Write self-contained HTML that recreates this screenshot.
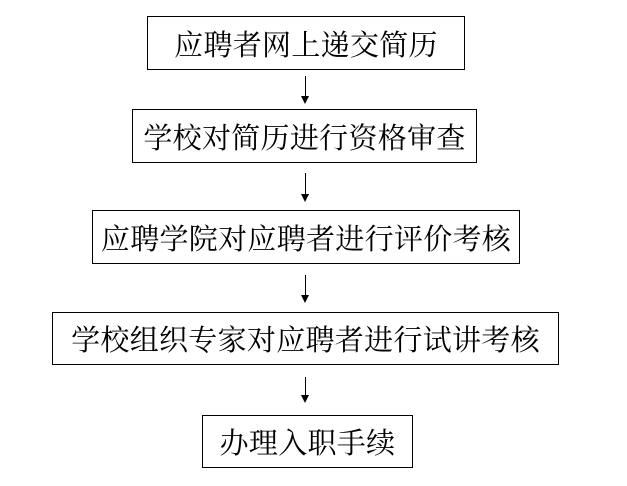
<!DOCTYPE html>
<html><head><meta charset="utf-8"><style>
html,body{margin:0;padding:0;background:#fff;}
body{width:627px;height:486px;position:relative;overflow:hidden;font-family:"Liberation Serif","Noto Serif CJK SC","Noto Sans CJK SC",serif;}
.b{position:absolute;border:1px solid #000;box-sizing:border-box;display:flex;align-items:center;justify-content:center;font-size:29px;color:#000;white-space:nowrap;letter-spacing:0.3px;}
.a{position:absolute;left:305px;width:1px;background:#000;}
.h{position:absolute;left:301px;width:0;height:0;border-left:4px solid transparent;border-right:4px solid transparent;border-top:8px solid #000;}
</style></head><body>
<div class="b" style="left:147px;top:16px;width:318px;height:54px">应聘者网上递交简历</div>
<div class="b" style="left:132px;top:109px;width:345px;height:54px">学校对简历进行资格审查</div>
<div class="b" style="left:92px;top:210px;width:428px;height:54px">应聘学院对应聘者进行评价考核</div>
<div class="b" style="left:52px;top:312px;width:507px;height:53px">学校组织专家对应聘者进行试讲考核</div>
<div class="b" style="left:202px;top:415px;width:211px;height:53px">办理入职手续</div>
<div class="a" style="top:76px;height:22px"></div><div class="h" style="top:96px"></div>
<div class="a" style="top:173px;height:22px"></div><div class="h" style="top:194px"></div>
<div class="a" style="top:275px;height:22px"></div><div class="h" style="top:295px"></div>
<div class="a" style="top:377px;height:20px"></div><div class="h" style="top:395px"></div>
</body></html>
